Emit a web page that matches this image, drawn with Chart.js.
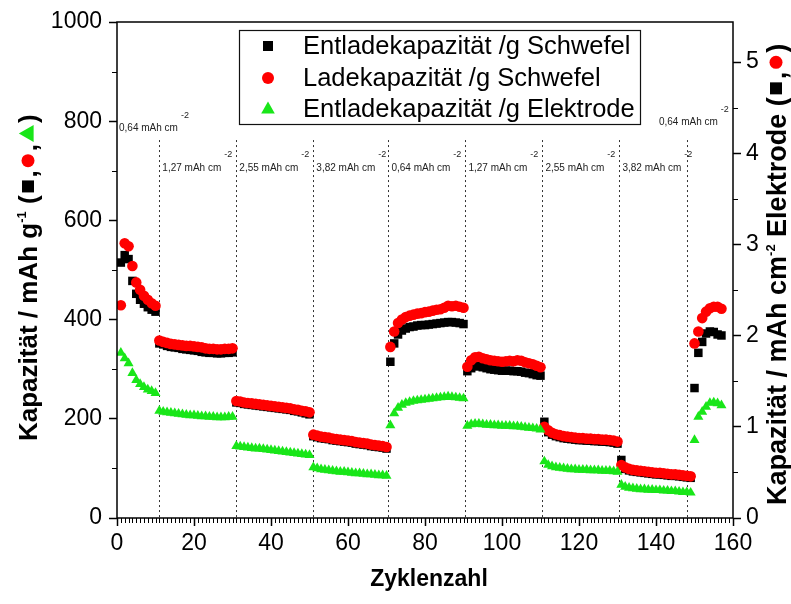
<!DOCTYPE html>
<html>
<head>
<meta charset="utf-8">
<script src="https://cdn.jsdelivr.net/npm/chart.js@4/dist/chart.umd.min.js"></script>
<style>
  html, body { margin: 0; padding: 0; background: #fff; }
  #c { display: block; }
</style>
</head>
<body>
<canvas id="c" width="791" height="604"></canvas>
<script>
// Discharge capacity per g sulfur (mAh/g), cycles 1..157
const dischargeSulfur = [
  515, 530, 522, 478, 452, 440, 432, 425, 420, 416,
  352, 350, 347, 345, 344, 343, 341, 340, 339, 338, 337, 335, 334, 333, 333, 332, 332, 333, 333, 334,
  233, 232, 230, 229, 228, 227, 226, 225, 224, 223, 222, 221, 220, 219, 218, 216, 215, 213, 211, 209,
  165, 163, 161, 160, 159, 157, 156, 155, 154, 153, 152, 150, 149, 148, 147, 145, 144, 143, 142, 140,
  315, 352, 370, 378, 382, 385, 386, 388, 389, 389, 390, 391, 392, 393, 394, 395, 395, 394, 393, 391,
  296, 302, 306, 306, 304, 302, 300, 299, 298, 297, 297, 297, 296, 296, 295, 293, 292, 290, 288, 287,
  194, 173, 168, 165, 163, 161, 160, 159, 158, 157, 157, 156, 156, 155, 155, 154, 154, 153, 152, 150,
  117, 99, 96, 94, 93, 92, 91, 90, 89, 88, 88, 87, 86, 85, 85, 84, 83, 82, 81,
  262, 333, 355, 372, 376, 375, 370, 368
];

// Charge capacity per g sulfur (mAh/g)
const chargeSulfur = [
  429, 554, 548, 508, 475, 460, 448, 440, 433, 428,
  358, 355, 353, 351, 350, 349, 348, 347, 347, 346, 345, 344, 342, 341, 341, 340, 340, 341, 341, 342,
  236, 235, 233, 232, 231, 230, 229, 228, 227, 226, 225, 224, 223, 222, 221, 219, 218, 216, 215, 213,
  168, 166, 164, 163, 162, 160, 159, 158, 157, 156, 155, 153, 152, 151, 150, 148, 147, 146, 145, 143,
  345, 376, 393, 400, 405, 408, 410, 412, 413, 415, 416, 418, 420, 421, 424, 428, 427, 428, 426, 424,
  305, 318, 324, 325, 322, 320, 318, 317, 316, 315, 316, 317, 316, 318, 317, 314, 312, 310, 307, 304,
  184, 177, 172, 169, 167, 165, 164, 163, 162, 161, 161, 160, 160, 159, 159, 158, 158, 157, 156, 154,
  107, 102, 99, 97, 96, 95, 94, 93, 92, 91, 91, 90, 89, 88, 88, 87, 86, 85, 84,
  352, 376, 403, 416, 423, 426, 426, 422
];

// Discharge capacity per g electrode (mAh/g)
const dischargeElectrode = [
  333, 322, 312, 292, 278, 270, 264, 259, 256, 252,
  216, 214, 213, 212, 211, 210, 209, 208, 207, 207, 206, 205, 205, 204, 204, 203, 203, 203, 204, 204,
  145, 144, 143, 142, 141, 140, 140, 139, 138, 137, 136, 135, 134, 133, 132, 131, 130, 129, 128, 127,
  102, 100, 98, 97, 96, 95, 94, 93, 93, 92, 91, 90, 90, 89, 88, 88, 87, 86, 86, 85,
  187, 211, 222, 228, 232, 234, 236, 237, 238, 239, 240, 241, 242, 243, 244, 245, 244, 243, 242, 241,
  186, 189, 190, 190, 189, 188, 188, 187, 187, 186, 186, 186, 185, 185, 184, 183, 182, 181, 180, 178,
  114, 107, 104, 102, 101, 100, 99, 98, 98, 97, 97, 97, 96, 96, 96, 95, 95, 95, 94, 93,
  67, 63, 61, 60, 59, 58, 58, 57, 57, 56, 56, 55, 55, 54, 54, 53, 52, 52, 51,
  157, 204, 214, 224, 232, 233, 231, 227
];

// Cycle numbers 1..157
const cycles = dischargeSulfur.map((_, i) => i + 1);

// Cycles where the areal current density changes
const rateChangeCycles = [11, 31, 51, 70.5, 90.5, 110.5, 130.5, 148];
// Areal current density of each block (mAh cm^-2)
const rateLabels = ['0,64', '1,27', '2,55', '3,82', '0,64', '1,27', '2,55', '3,82', '0,64'];

// Axis ticks
const xTickStep = 20;
const yLeftTickStep = 200;
const yRightTickStep = 1;

const seriesNames = [
  'Entladekapazität /g Schwefel',
  'Ladekapazität /g Schwefel',
  'Entladekapazität /g Elektrode'
];

const FONT = '"Liberation Sans", Arial, sans-serif';
const BLACK = '#000000';
const RED = '#ff0000';
const GREEN = '#19e619';

const toPoints = (vals) => vals.map((v, i) => ({ x: cycles[i], y: v }));

function drawMarker(ctx, style, x, y, r, color) {
  ctx.save();
  ctx.fillStyle = color;
  ctx.beginPath();
  if (style === 'rect') {
    ctx.rect(x - r, y - r, 2 * r, 2 * r);
  } else if (style === 'circle') {
    ctx.arc(x, y, r, 0, Math.PI * 2);
  } else {
    ctx.moveTo(x, y - r * 1.15);
    ctx.lineTo(x + r * 1.05, y + r * 0.7);
    ctx.lineTo(x - r * 1.05, y + r * 0.7);
    ctx.closePath();
  }
  ctx.fill();
  ctx.restore();
}

// Draws a run of text pieces (and series symbols) along one line from (sx, sy), optionally rotated
function drawRichText(ctx, parts, sx, sy, rotation, centred, fontSize) {
  ctx.save();
  ctx.translate(sx, sy);
  ctx.rotate(rotation);
  ctx.textBaseline = 'alphabetic';
  ctx.textAlign = 'left';
  const base = fontSize ? fontSize * 0.36 : 8;
  let total = 0;
  parts.forEach(p => {
    if (p.marker) { p.w = p.slot; }
    else { ctx.font = p.font; p.w = ctx.measureText(p.text).width; }
    total += p.w;
  });
  let x = centred ? -total / 2 : 0;
  parts.forEach(p => {
    if (p.marker) {
      drawMarker(ctx, p.marker, x + p.w / 2, base - fontSize * 0.36, p.r, p.color);
    } else {
      ctx.font = p.font;
      ctx.fillStyle = p.color || BLACK;
      ctx.fillText(p.text, x, (p.dy || 0) + base);
    }
    x += p.w;
  });
  ctx.restore();
}

const decorations = {
  id: 'decorations',
  beforeDatasetsDraw(chart) {
    const { ctx, chartArea: a, scales } = chart;
    const xs = scales.x, ys = scales.y;
    ctx.save();
    // dotted separators between current-density blocks
    ctx.strokeStyle = '#333';
    ctx.lineWidth = 1;
    ctx.setLineDash([2, 3]);
    const topY = ys.getPixelForValue(762);
    rateChangeCycles.forEach(c => {
      const px = Math.round(xs.getPixelForValue(c)) + 0.5;
      ctx.beginPath();
      ctx.moveTo(px, topY);
      ctx.lineTo(px, a.bottom);
      ctx.stroke();
    });
    ctx.setLineDash([]);

    // current-density labels
    ctx.fillStyle = '#222';
    ctx.textBaseline = 'middle';
    const labelFont = '10px ' + FONT;
    const supFont = '9px ' + FONT;
    const upperY = ys.getPixelForValue(786);
    const lowerY = ys.getPixelForValue(706);
    const drawLabel = (text, left, yMid) => {
      ctx.font = labelFont;
      ctx.textAlign = 'left';
      const main = text + ' mAh cm';
      ctx.fillText(main, left, yMid);
      const w = ctx.measureText(main).width;
      ctx.font = supFont;
      ctx.fillText('-2', left + w + 3, yMid - 13);
    };
    drawLabel(rateLabels[0], a.left + 2, upperY);
    for (let i = 1; i < rateLabels.length - 1; i++) {
      drawLabel(rateLabels[i], xs.getPixelForValue(rateChangeCycles[i - 1]) + 3, lowerY);
    }
    // last block label sits to the left of its separator
    ctx.font = labelFont;
    const lastText = rateLabels[rateLabels.length - 1] + ' mAh cm';
    const lw = ctx.measureText(lastText).width;
    const lastRight = xs.getPixelForValue(rateChangeCycles[rateChangeCycles.length - 1]) + 31;
    drawLabel(rateLabels[rateLabels.length - 1], lastRight - lw, ys.getPixelForValue(798));
    ctx.restore();
  },
  afterDraw(chart) {
    const { ctx, chartArea: a, scales } = chart;
    const xs = scales.x, ys = scales.y, y2 = scales.y2;
    ctx.save();

    // minor ticks
    ctx.strokeStyle = '#000';
    ctx.lineWidth = 1;
    ctx.beginPath();
    for (let c = 1; c < 160; c++) {
      if (c % xTickStep === 0) continue;
      const px = Math.round(xs.getPixelForValue(c)) + 0.5;
      ctx.moveTo(px, a.bottom);
      ctx.lineTo(px, a.bottom + 5);
    }
    for (let v = 100; v < 1000; v += 200) {
      const py = Math.round(ys.getPixelForValue(v)) + 0.5;
      ctx.moveTo(a.left, py);
      ctx.lineTo(a.left - 5, py);
    }
    for (let v = 0.5; v < 5.44; v += 1) {
      const py = Math.round(y2.getPixelForValue(v)) + 0.5;
      ctx.moveTo(a.right, py);
      ctx.lineTo(a.right + 5, py);
    }
    ctx.stroke();

    // plot frame
    ctx.lineWidth = 1.5;
    ctx.strokeRect(a.left, a.top, a.right - a.left, a.bottom - a.top);

    // legend box
    const lx = 239.5, ly = 30.5, lwid = 401, lh = 94;
    ctx.fillStyle = '#fff';
    ctx.fillRect(lx, ly, lwid, lh);
    ctx.lineWidth = 1.2;
    ctx.strokeStyle = '#111';
    ctx.strokeRect(lx, ly, lwid, lh);
    const rows = [46, 78, 109];
    const styles = ['rect', 'circle', 'triangle'];
    const colors = [BLACK, RED, GREEN];
    const sizes = [5, 6, 6.5];
    ctx.font = '25.5px ' + FONT;
    ctx.textBaseline = 'middle';
    ctx.textAlign = 'left';
    rows.forEach((ry, i) => {
      drawMarker(ctx, styles[i], 268, ry, sizes[i], colors[i]);
      ctx.fillStyle = '#000';
      ctx.fillText(seriesNames[i], 303, ry + 1);
    });

    // axis titles (reading bottom to top)
    const leftSize = 26, rightSize = 27;
    const bigL = 'bold ' + leftSize + 'px ' + FONT;
    const bigR = 'bold ' + rightSize + 'px ' + FONT;
    const sup = 'bold 13px ' + FONT;
    drawRichText(ctx, [
      { text: 'Kapazität / mAh g', font: bigL },
      { text: '-1', font: sup, dy: -11 },
      { text: ' (', font: bigL },
      { marker: 'rect', r: 6, slot: 18, color: BLACK },
      { text: ',', font: bigL },
      { marker: 'circle', r: 6.5, slot: 19, color: RED },
      { text: ',', font: bigL },
      { marker: 'triangle', r: 8, slot: 21, color: GREEN },
      { text: ')', font: bigL }
    ], 28, 441, -Math.PI / 2, false, leftSize);

    drawRichText(ctx, [
      { text: 'Kapazität / mAh cm', font: bigR },
      { text: '-2', font: sup, dy: -11 },
      { text: ' Elektrode (', font: bigR },
      { marker: 'rect', r: 6, slot: 18, color: BLACK },
      { text: ',', font: bigR },
      { marker: 'circle', r: 6.5, slot: 19, color: RED },
      { text: ')', font: bigR }
    ], 776, 505, -Math.PI / 2, false, rightSize);

    drawRichText(ctx, [{ text: 'Zyklenzahl', font: 'bold 23px ' + FONT }], (a.left + a.right) / 2 + 4, 578, 0, true, 23);
    ctx.restore();
  }
};

const tickFont = { family: FONT, size: 23 };
const gridOpts = { drawOnChartArea: false, drawTicks: true, tickLength: 8, tickWidth: 1.5, tickColor: '#000' };
const plainNumber = (v) => String(v);

new Chart(document.getElementById('c'), {
  type: 'scatter',
  data: {
    datasets: [
      { label: seriesNames[0], data: toPoints(dischargeSulfur), pointStyle: 'rect', pointRadius: 6,
        backgroundColor: BLACK, borderColor: BLACK, borderWidth: 0, order: 2, yAxisID: 'y' },
      { label: seriesNames[1], data: toPoints(chargeSulfur), pointStyle: 'circle', pointRadius: 5.3,
        backgroundColor: RED, borderColor: RED, borderWidth: 0, order: 1, yAxisID: 'y' },
      { label: seriesNames[2], data: toPoints(dischargeElectrode), pointStyle: 'triangle', pointRadius: 5.8,
        backgroundColor: GREEN, borderColor: GREEN, borderWidth: 0, order: 0, yAxisID: 'y' }
    ]
  },
  options: {
    responsive: false,
    animation: false,
    devicePixelRatio: 1,
    layout: { padding: { top: 22, left: 0, right: 0, bottom: 0 } },
    plugins: { legend: { display: false }, tooltip: { enabled: false } },
    scales: {
      x: {
        type: 'linear', position: 'bottom', min: 0, max: 160,
        afterFit(s) { s.height = 86; },
        ticks: { stepSize: xTickStep, font: tickFont, color: '#000', padding: 4, maxRotation: 0, autoSkip: false, callback: plainNumber },
        grid: gridOpts, border: { display: false }
      },
      y: {
        type: 'linear', position: 'left', min: 0, max: 1000,
        afterFit(s) { s.width = 117; },
        ticks: { stepSize: yLeftTickStep, font: tickFont, color: '#000', padding: 7, callback: plainNumber },
        grid: gridOpts, border: { display: false }
      },
      y2: {
        type: 'linear', position: 'right', min: 0, max: 5.44,
        afterFit(s) { s.width = 58; },
        ticks: { stepSize: yRightTickStep, includeBounds: false, font: tickFont, color: '#000', padding: 5, callback: plainNumber },
        grid: gridOpts, border: { display: false }
      }
    }
  },
  plugins: [decorations]
});
</script>
</body>
</html>
